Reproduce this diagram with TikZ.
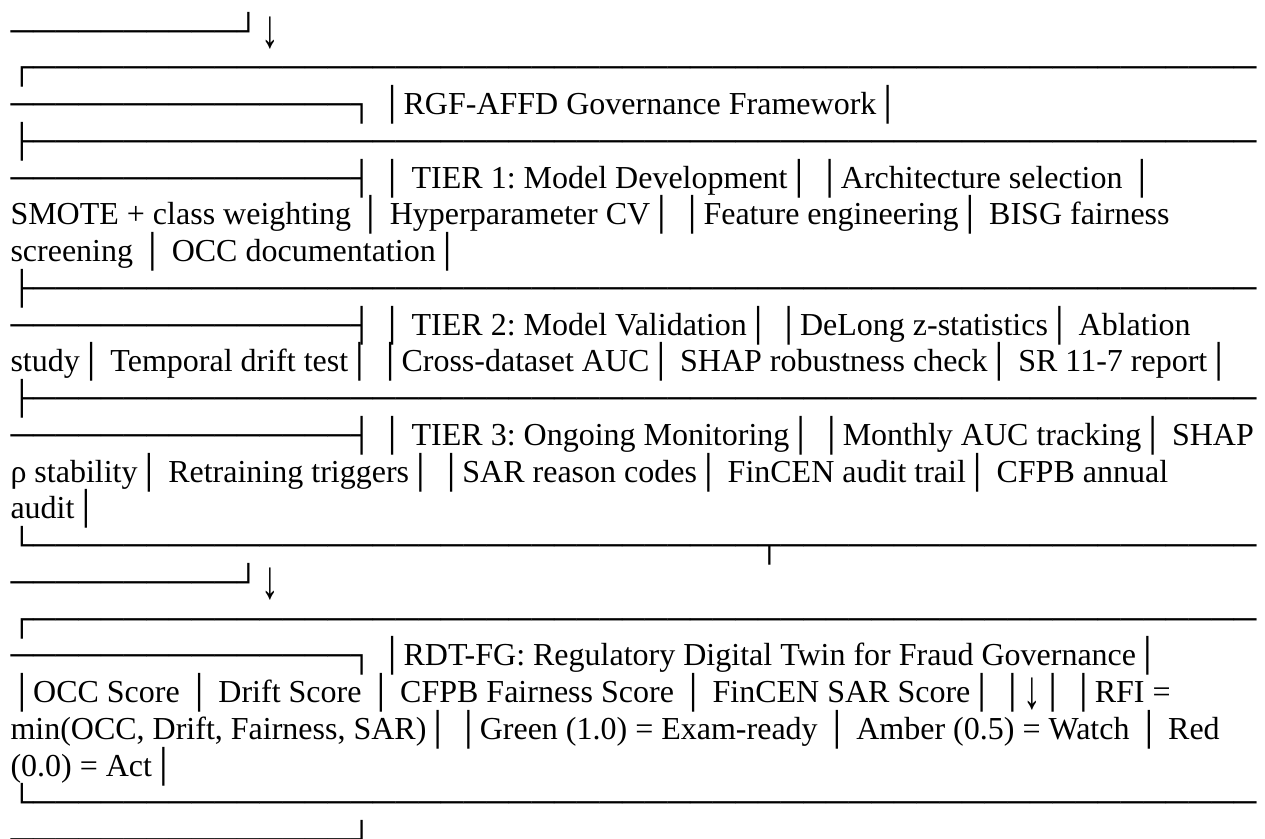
\documentclass[tikz,border=0pt]{standalone}
\usepackage{fontspec}
\setmainfont{Liberation Serif}
\usepackage{graphicx}
\ExplSyntaxOn
\cs_new:Npn \boxrun #1 {\prg_replicate:nn{#1}{─}}
\ExplSyntaxOff
\newcommand\rowfont{\fontsize{24}{27.5}\selectfont\frenchspacing}
\newcommand\darrow{\smash{\raisebox{-4.5pt}{\scalebox{1.1}[1.7]{↓}}}}
\tikzset{rowtext/.style={anchor=base west, inner sep=0pt, outer sep=0pt, font=\rowfont}}
\begin{document}
\begin{tikzpicture}[x=0.75pt,y=0.75pt]
\path[use as bounding box, fill=white] (0,0) rectangle (1265,-839);
\def\lx{10.5}
\def\by{41}
\def\dy{36.75}
\node[rowtext] (r1)  at (\lx,{-(\by+0*\dy)})  {\boxrun{10}┘ \hspace{-5pt}\darrow};
\node[rowtext] (r2)  at (\lx,{-(\by+1*\dy)})  {┌\boxrun{54}};
\node[rowtext] (r3)  at (\lx,{-(\by+2*\dy)})  {\boxrun{15}┐ │RGF-AFFD Governance Framework│};
\node[rowtext] (r4)  at (\lx,{-(\by+3*\dy)})  {├\boxrun{54}};
\node[rowtext] (r5)  at (\lx,{-(\by+4*\dy)})  {\boxrun{15}┤ │ TIER 1: Model Development│ │Architecture selection │};
\node[rowtext] (r6)  at (\lx,{-(\by+5*\dy)})  {SMOTE + class weighting │ Hyperparameter CV│ │Feature engineering│ BISG fairness};
\node[rowtext] (r7)  at (\lx,{-(\by+6*\dy)})  {screening │ OCC documentation│};
\node[rowtext] (r8)  at (\lx,{-(\by+7*\dy)})  {├\boxrun{54}};
\node[rowtext] (r9)  at (\lx,{-(\by+8*\dy)})  {\boxrun{15}┤ │ TIER 2: Model Validation│ │DeLong z-statistics│ Ablation};
\node[rowtext] (r10) at (\lx,{-(\by+9*\dy)})  {study│ Temporal drift test│ │Cross-dataset AUC│ SHAP robustness check│ SR 11-7 report│};
\node[rowtext] (r11) at (\lx,{-(\by+10*\dy)}) {├\boxrun{54}};
\node[rowtext] (r12) at (\lx,{-(\by+11*\dy)}) {\boxrun{15}┤ │ TIER 3: Ongoing Monitoring│ │Monthly AUC tracking│ SHAP};
\node[rowtext] (r13) at (\lx,{-(\by+12*\dy)}) {ρ stability│ Retraining triggers│ │SAR reason codes│ FinCEN audit trail│ CFPB annual};
\node[rowtext] (r14) at (\lx,{-(\by+13*\dy)}) {audit│};
\node[rowtext] (r15) at (\lx,{-(\by+14*\dy)}) {└\boxrun{32}┬\boxrun{21}};
\node[rowtext] (r16) at (\lx,{-(\by+15*\dy)}) {\boxrun{10}┘ \hspace{-5pt}\darrow};
\node[rowtext] (r17) at (\lx,{-(\by+16*\dy)}) {┌\boxrun{54}};
\node[rowtext] (r18) at (\lx,{-(\by+17*\dy)}) {\boxrun{15}┐ │RDT-FG: Regulatory Digital Twin for Fraud Governance│};
\node[rowtext] (r19) at (\lx,{-(\by+18*\dy)}) {│OCC Score │ Drift Score │ CFPB Fairness Score │ FinCEN SAR Score│ │\darrow│ │RFI =};
\node[rowtext] (r20) at (\lx,{-(\by+19*\dy)}) {min(OCC, Drift, Fairness, SAR)│ │Green (1.0) = Exam-ready │ Amber (0.5) = Watch │ Red};
\node[rowtext] (r21) at (\lx,{-(\by+20*\dy)}) {(0.0) = Act│};
\node[rowtext] (r22) at (\lx,{-(\by+21*\dy)}) {└\boxrun{54}};
\node[rowtext] (r23) at (\lx,{-(\by+22*\dy)}) {\boxrun{15}┘};
\end{tikzpicture}
\end{document}
